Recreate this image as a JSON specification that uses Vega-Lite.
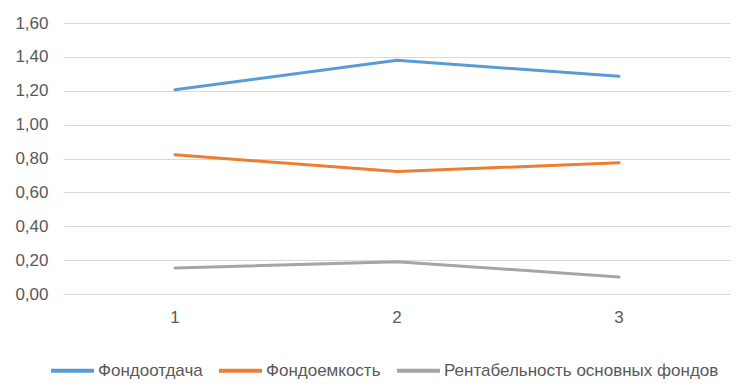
{
  "$schema": "https://vega.github.io/schema/vega-lite/v6.json",
  "autosize": {"type": "none"},
  "width": 666,
  "height": 271,
  "padding": {"left": 64, "top": 23, "right": 24, "bottom": 97},
  "background": "white",
  "data": {
    "values": [
      {"period": "1", "series": "Фондоотдача", "value": 1.206},
      {"period": "2", "series": "Фондоотдача", "value": 1.38},
      {"period": "3", "series": "Фондоотдача", "value": 1.285},
      {"period": "1", "series": "Фондоемкость", "value": 0.822},
      {"period": "2", "series": "Фондоемкость", "value": 0.723},
      {"period": "3", "series": "Фондоемкость", "value": 0.775},
      {"period": "1", "series": "Рентабельность основных фондов", "value": 0.154},
      {"period": "2", "series": "Рентабельность основных фондов", "value": 0.191},
      {"period": "3", "series": "Рентабельность основных фондов", "value": 0.1}
    ]
  },
  "mark": {"type": "line", "strokeWidth": 3, "strokeCap": "round", "strokeJoin": "round"},
  "encoding": {
    "x": {
      "field": "period", "type": "ordinal",
      "scale": {"type": "band", "paddingInner": 0, "paddingOuter": 0},
      "axis": {"title": null, "labelAngle": 0, "ticks": false, "domain": false, "grid": false, "labelPadding": 15, "labelFontSize": 17, "labelColor": "#595959", "labelFont": "Liberation Sans"}
    },
    "y": {
      "field": "value", "type": "quantitative",
      "scale": {"domain": [0, 1.6], "nice": false},
      "axis": {"title": null, "values": [0, 0.2, 0.4, 0.6, 0.8, 1.0, 1.2, 1.4, 1.6], "labelExpr": "replace(format(datum.value, '.2f'), '.', ',')", "ticks": false, "domain": false, "gridColor": "#D9D9D9", "gridWidth": 1, "labelPadding": 16, "labelFontSize": 17, "labelColor": "#595959", "labelFont": "Liberation Sans"}
    },
    "color": {
      "field": "series", "type": "nominal",
      "sort": ["Фондоотдача", "Фондоемкость", "Рентабельность основных фондов"],
      "scale": {"domain": ["Фондоотдача", "Фондоемкость", "Рентабельность основных фондов"], "range": ["#5B9BD5", "#ED7D31", "#A5A5A5"]},
      "legend": {
        "title": null, "orient": "none", "direction": "horizontal",
        "legendX": -15, "legendY": 324,
        "symbolType": "stroke", "symbolSize": 1849, "symbolStrokeWidth": 4,
        "labelFontSize": 17, "labelColor": "#595959", "labelFont": "Liberation Sans",
        "labelLimit": 500, "labelOffset": 2, "columnPadding": 8
      }
    }
  },
  "config": {"view": {"stroke": null}}
}
